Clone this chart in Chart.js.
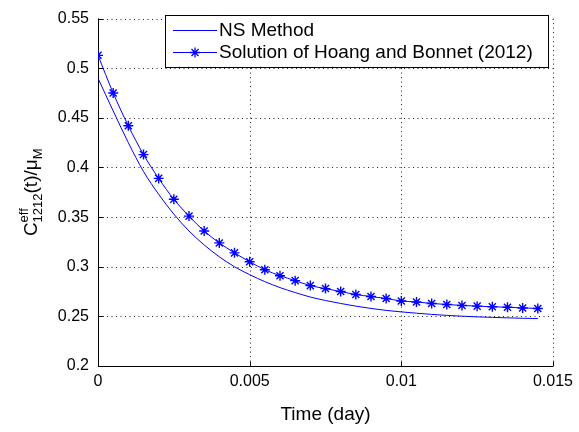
<!DOCTYPE html>
<html>
<head>
<meta charset="utf-8">
<script src="https://cdn.jsdelivr.net/npm/chart.js@4"></script>
<style>
  html, body { margin: 0; padding: 0; background: #fff; }
  canvas { display: block; }
</style>
</head>
<body>
<canvas id="myChart" width="579" height="432"></canvas>
<script>
// tiempos (day), cada 0.0005
const tiempos = [0, 0.0005, 0.001, 0.0015, 0.002, 0.0025, 0.003, 0.0035, 0.004, 0.0045,
  0.005, 0.0055, 0.006, 0.0065, 0.007, 0.0075, 0.008, 0.0085, 0.009, 0.0095,
  0.01, 0.0105, 0.011, 0.0115, 0.012, 0.0125, 0.013, 0.0135, 0.014, 0.0145];

// NS Method
const nsMethod = [0.490, 0.457, 0.425, 0.396, 0.373, 0.353, 0.336, 0.322, 0.310, 0.300,
  0.292, 0.285, 0.279, 0.274, 0.2695, 0.266, 0.263, 0.2603, 0.258, 0.256,
  0.2545, 0.2532, 0.252, 0.251, 0.2502, 0.2495, 0.249, 0.2485, 0.2481, 0.2478];

// Solution of Hoang and Bonnet (2012)
const hoangBonnet = [0.513, 0.475, 0.442, 0.413, 0.389, 0.368, 0.351, 0.336, 0.324, 0.314,
  0.305, 0.297, 0.291, 0.286, 0.281, 0.278, 0.275, 0.272, 0.270, 0.268,
  0.2655, 0.2645, 0.263, 0.262, 0.261, 0.2603, 0.2597, 0.2592, 0.2585, 0.258];

const ticksX = [0, 0.005, 0.01, 0.015];
const ticksY = [0.2, 0.25, 0.3, 0.35, 0.4, 0.45, 0.5, 0.55];
const etiquetas = ['NS Method', 'Solution of Hoang and Bonnet (2012)'];

const FUENTE = "'Liberation Sans', Arial, sans-serif";
const AZUL = '#0000ff';

function puntos(xs, ys) {
  return xs.map((x, i) => ({ x: x, y: ys[i] }));
}

// ejes estilo matlab: rejilla punteada, ticks hacia dentro, leyenda con caja
const estiloMatlab = {
  id: 'estiloMatlab',
  beforeDatasetsDraw(chart) {
    const ctx = chart.ctx;
    const a = chart.chartArea;
    const sx = chart.scales.x, sy = chart.scales.y;
    ctx.save();
    ctx.strokeStyle = '#222';
    ctx.lineWidth = 1;
    ctx.setLineDash([1, 3.5]);
    ticksX.forEach(v => {
      const px = Math.round(sx.getPixelForValue(v)) + 0.5;
      ctx.beginPath(); ctx.moveTo(px, a.top); ctx.lineTo(px, a.bottom); ctx.stroke();
    });
    ticksY.forEach(v => {
      const py = Math.round(sy.getPixelForValue(v)) + 0.5;
      ctx.beginPath(); ctx.moveTo(a.left, py); ctx.lineTo(a.right, py); ctx.stroke();
    });
    ctx.setLineDash([]);
    ctx.strokeStyle = '#000';
    // ejes
    const l = Math.round(a.left) + 0.5, b = Math.round(a.bottom) + 0.5;
    ctx.beginPath();
    ctx.moveTo(l, a.top); ctx.lineTo(l, b); ctx.lineTo(a.right, b);
    ctx.stroke();
    ticksX.forEach(v => {
      const px = Math.round(sx.getPixelForValue(v)) + 0.5;
      ctx.beginPath(); ctx.moveTo(px, b); ctx.lineTo(px, b - 5); ctx.stroke();
    });
    ticksY.forEach(v => {
      const py = Math.round(sy.getPixelForValue(v)) + 0.5;
      ctx.beginPath(); ctx.moveTo(l, py); ctx.lineTo(l + 5, py); ctx.stroke();
    });
    ctx.restore();
  },
  afterDraw(chart) {
    const ctx = chart.ctx;
    const a = chart.chartArea;
    ctx.save();
    ctx.fillStyle = '#000';

    // titulo eje x
    ctx.font = '19px ' + FUENTE;
    ctx.textAlign = 'center';
    ctx.textBaseline = 'alphabetic';
    ctx.fillText('Time (day)', (a.left + a.right) / 2, 420);

    // titulo eje y: C^eff_1212(t)/mu_M
    const textos = ['C', 'eff', '1212', '(t)/\u03bc', 'M'];
    const tam = [19, 13, 13, 19, 13];
    const anchos = textos.map((t, i) => {
      ctx.font = tam[i] + 'px ' + FUENTE;
      return ctx.measureText(t).width;
    });
    // eff y 1212 se apilan: avanza el mayor
    const total = anchos[0] + Math.max(anchos[1], anchos[2]) + anchos[3] + anchos[4];
    ctx.translate(37, (a.top + a.bottom) / 2);
    ctx.rotate(-Math.PI / 2);
    ctx.textAlign = 'left';
    let x = -total / 2;
    ctx.font = '19px ' + FUENTE;
    ctx.fillText('C', x, 0);
    x += anchos[0];
    ctx.font = '13px ' + FUENTE;
    ctx.fillText('eff', x, -9);
    ctx.fillText('1212', x, 5);
    x += Math.max(anchos[1], anchos[2]);
    ctx.font = '19px ' + FUENTE;
    ctx.fillText('(t)/\u03bc', x, 0);
    x += anchos[3];
    ctx.font = '13px ' + FUENTE;
    ctx.fillText('M', x, 5);
    ctx.setTransform(1, 0, 0, 1, 0, 0);

    // leyenda
    const bx = 165.5, by = 15.5, bw = 383, bh = 52;
    ctx.fillStyle = '#fff';
    ctx.fillRect(bx, by, bw, bh);
    ctx.strokeStyle = '#000';
    ctx.lineWidth = 1;
    ctx.strokeRect(bx, by, bw, bh);
    const filas = [30, 52];
    ctx.font = '19px ' + FUENTE;
    ctx.textAlign = 'left';
    ctx.textBaseline = 'middle';
    filas.forEach((fy, i) => {
      ctx.strokeStyle = AZUL;
      ctx.beginPath(); ctx.moveTo(173, fy + 0.5); ctx.lineTo(217, fy + 0.5); ctx.stroke();
      if (i === 1) {
        const cx = 195, cy = fy + 0.5, r = 5;
        ctx.lineWidth = 1.3;
        ctx.beginPath();
        ctx.moveTo(cx - r, cy); ctx.lineTo(cx + r, cy);
        ctx.moveTo(cx, cy - r); ctx.lineTo(cx, cy + r);
        const d = r * 0.707;
        ctx.moveTo(cx - d, cy - d); ctx.lineTo(cx + d, cy + d);
        ctx.moveTo(cx - d, cy + d); ctx.lineTo(cx + d, cy - d);
        ctx.stroke();
        ctx.lineWidth = 1;
      }
      ctx.fillStyle = '#000';
      ctx.fillText(etiquetas[i], 219, fy + 1);
    });
    ctx.restore();
  }
};

const ctx = document.getElementById('myChart').getContext('2d');
new Chart(ctx, {
  type: 'line',
  data: {
    datasets: [{
      label: etiquetas[0],
      data: puntos(tiempos, nsMethod),
      borderColor: AZUL,
      borderWidth: 1,
      pointRadius: 0,
      cubicInterpolationMode: 'monotone',
      fill: false
    }, {
      label: etiquetas[1],
      data: puntos(tiempos, hoangBonnet),
      borderColor: AZUL,
      borderWidth: 1,
      pointStyle: 'star',
      pointRadius: 5,
      pointBorderColor: AZUL,
      pointBackgroundColor: AZUL,
      pointBorderWidth: 1.4,
      cubicInterpolationMode: 'monotone',
      fill: false
    }]
  },
  options: {
    responsive: false,
    animation: false,
    devicePixelRatio: 1,
    layout: { padding: { left: 0, right: 24, top: 8, bottom: 0 } },
    plugins: { legend: { display: false }, tooltip: { enabled: false } },
    scales: {
      x: {
        type: 'linear',
        min: 0,
        max: 0.015,
        afterBuildTicks: s => { s.ticks = ticksX.map(v => ({ value: v })); },
        afterFit: s => { s.height = 66; },
        grid: { color: 'rgba(0,0,0,0)', drawTicks: false, tickLength: 0 },
        border: { display: false },
        ticks: {
          padding: 6,
          color: '#000',
          font: { family: FUENTE, size: 16 },
          maxRotation: 0,
          callback: v => String(+v.toFixed(3))
        }
      },
      y: {
        type: 'linear',
        min: 0.2,
        max: 0.55,
        afterBuildTicks: s => { s.ticks = ticksY.map(v => ({ value: v })); },
        afterFit: s => { s.width = 98; },
        grid: { color: 'rgba(0,0,0,0)', drawTicks: false, tickLength: 0 },
        border: { display: false },
        ticks: {
          padding: 9,
          color: '#000',
          font: { family: FUENTE, size: 16 },
          callback: v => String(+v.toFixed(2))
        }
      }
    }
  },
  plugins: [estiloMatlab]
});
</script>
</body>
</html>
